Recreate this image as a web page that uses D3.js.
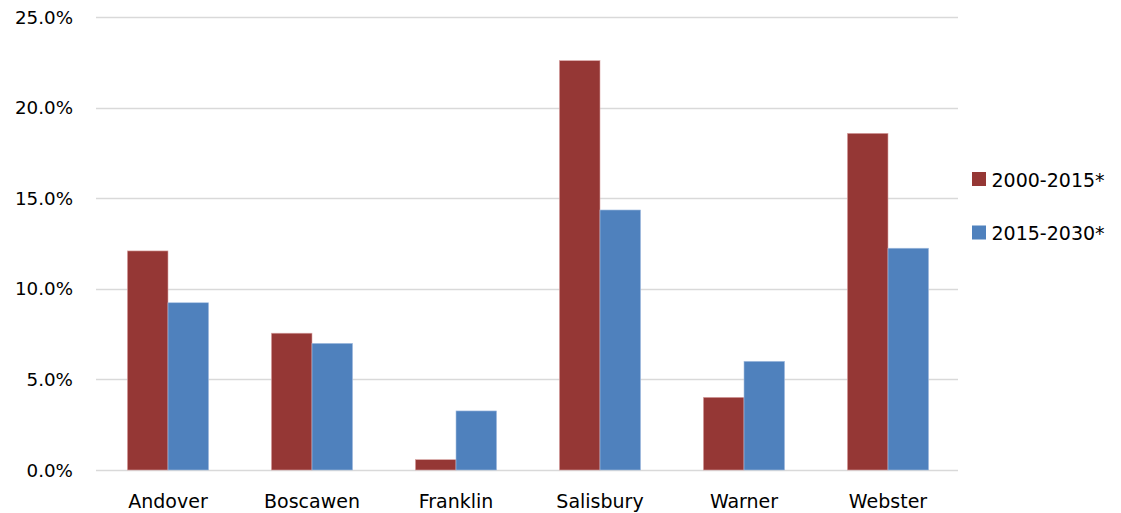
<!DOCTYPE html>
<html>
<head>
<meta charset="utf-8">
<script src="https://cdn.jsdelivr.net/npm/d3@7"></script>
<style>
  html, body { margin: 0; padding: 0; background: #fff; }
  svg text { font-family: "DejaVu Sans", sans-serif; fill: #000; }
</style>
</head>
<body>
<svg id="chart" width="1121" height="513"></svg>
<script>
// Growth rates by town, two periods
const towns = ["Andover", "Boscawen", "Franklin", "Salisbury", "Warner", "Webster"];
const seriesNames = ["2000-2015*", "2015-2030*"];
const growth2000_2015 = [0.1209, 0.0755, 0.0057, 0.2259, 0.0401, 0.1858];
const growth2015_2030 = [0.0923, 0.0699, 0.0326, 0.1435, 0.0600, 0.1224];
const yTicks = [0, 0.05, 0.10, 0.15, 0.20, 0.25];
const colors = ["#953735", "#4F81BD"];

const svg = d3.select("#chart");

const x0 = d3.scaleBand()
  .domain(towns)
  .range([96, 960])
  .paddingInner(0.436)
  .paddingOuter(0.218);

const x1 = d3.scaleBand()
  .domain(seriesNames)
  .range([0, x0.bandwidth()]);

const y = d3.scaleLinear()
  .domain([0, 0.25])
  .range([470, 17]);

// Gridlines
svg.append("g")
  .selectAll("line")
  .data(yTicks)
  .join("line")
  .attr("x1", 96)
  .attr("x2", 958)
  .attr("y1", d => Math.round(y(d)) + 0.5)
  .attr("y2", d => Math.round(y(d)) + 0.5)
  .attr("stroke", "#D9D9D9")
  .attr("stroke-width", 1.5);

// Y axis labels
const fmt = d3.format(".1%");
svg.append("g")
  .selectAll("text")
  .data(yTicks)
  .join("text")
  .attr("x", 73)
  .attr("y", d => y(d))
  .attr("dy", "0.36em")
  .attr("text-anchor", "end")
  .attr("font-size", "18.3px")
  .text(d => fmt(d));

// Bars
const rows = towns.map((t, i) => ({
  town: t,
  values: [growth2000_2015[i], growth2015_2030[i]]
}));

svg.append("g")
  .selectAll("g")
  .data(rows)
  .join("g")
  .attr("transform", d => `translate(${x0(d.town)},0)`)
  .selectAll("rect")
  .data(d => d.values.map((v, j) => ({ key: seriesNames[j], value: v, j })))
  .join("rect")
  .attr("x", d => x1(d.key))
  .attr("y", d => y(d.value))
  .attr("width", x1.bandwidth())
  .attr("height", d => y(0) - y(d.value))
  .attr("fill", d => colors[d.j])
  .attr("stroke", d => d.j === 0 ? "#D9A5A4" : "#A9C1E2")
  .attr("stroke-width", 0.6);

// Category labels
svg.append("g")
  .selectAll("text")
  .data(towns)
  .join("text")
  .attr("x", d => x0(d) + x0.bandwidth() / 2)
  .attr("y", 508)
  .attr("text-anchor", "middle")
  .attr("font-size", "19px")
  .text(d => d);

// Legend
const legend = svg.append("g")
  .selectAll("g")
  .data(seriesNames)
  .join("g")
  .attr("transform", (d, i) => `translate(972,${172 + i * 53.5})`);

legend.append("rect")
  .attr("width", 14)
  .attr("height", 14)
  .attr("fill", (d, i) => colors[i]);

legend.append("text")
  .attr("x", 19.5)
  .attr("y", 14.5)
  .attr("font-size", "19px")
  .text(d => d);
</script>
</body>
</html>
